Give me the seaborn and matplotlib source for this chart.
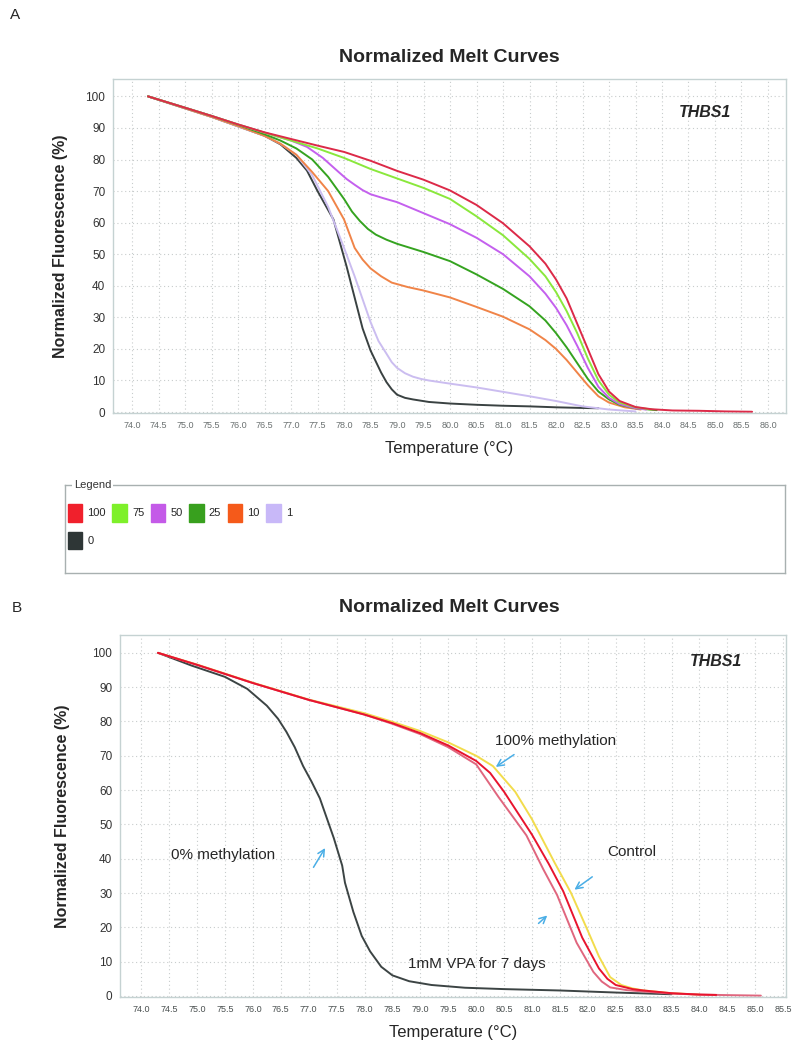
import numpy as np
import pandas as pd
import seaborn as sns
import matplotlib.pyplot as plt
from matplotlib.patches import Patch

# ---- panel A data (standards, % methylation) ----
a_labels = ["100", "75", "50", "25", "10", "1", "0"]
a_colors = ["#dc2a48", "#8ae83c", "#c460ee", "#35a320", "#f08448", "#cbbdf0", "#3a4242"]
a_swatch = ["#f0202c", "#7ef02a", "#c45ae8", "#38a01e", "#f55a1a", "#c8b8f8", "#2e3636"]

a_t_100 = [74.3, 75.0, 75.5, 76.0, 76.5, 77.0, 77.5, 78.0, 78.5, 79.0, 79.5, 80.0, 80.5, 81.0, 81.5,
           81.8, 82.0, 82.2, 82.4, 82.6, 82.8, 83.0, 83.2, 83.5, 83.8, 84.2, 84.7, 85.2, 85.7]
a_f_100 = [100, 96.4, 93.8, 91.1, 88.6, 86.5, 84.4, 82.4, 79.6, 76.4, 73.6, 70.2, 65.6, 59.8, 52.5,
           47, 42, 36, 28, 20, 12, 6.5, 3.5, 1.6, 0.9, 0.5, 0.4, 0.2, 0.1]
a_t_75 = [74.3, 75.0, 75.5, 76.0, 76.5, 77.0, 77.5, 78.0, 78.5, 79.0, 79.5, 80.0, 80.5, 81.0, 81.5,
          81.8, 82.0, 82.2, 82.4, 82.6, 82.8, 83.0, 83.2, 83.5, 83.8]
a_f_75 = [100, 96.4, 93.8, 91.1, 88.5, 86.0, 83.5, 80.5, 77.0, 74.0, 71.0, 67.5, 62, 56, 48.5,
          43, 38, 32, 25, 17, 10, 5.5, 3, 1.5, 0.8]
a_t_50 = [74.3, 75.0, 75.5, 76.0, 76.5, 77.0, 77.3, 77.6, 77.9, 78.05, 78.2, 78.35, 78.5, 78.75, 79.0,
          79.5, 80.0, 80.5, 81.0, 81.5, 81.8, 82.0, 82.2, 82.4, 82.6, 82.8, 83.0, 83.2, 83.5, 83.7]
a_f_50 = [100, 96.4, 93.8, 91.1, 88.5, 86.0, 84.0, 80.5, 76.0, 73.8, 72.0, 70.3, 69.0, 67.7, 66.5,
          63.0, 59.5, 55.2, 50, 43, 37.5, 33, 27.5, 21, 14, 8, 4.5, 2.5, 1.2, 0.8]
a_t_25 = [74.3, 75.0, 75.5, 76.0, 76.5, 76.8, 77.1, 77.4, 77.7, 78.0, 78.15, 78.3, 78.45, 78.6, 78.8,
          79.0, 79.5, 80.0, 80.5, 81.0, 81.5, 81.8, 82.0, 82.2, 82.4, 82.6, 82.8, 83.0, 83.2, 83.5,
          83.9]
a_f_25 = [100, 96.4, 93.8, 91.0, 88.0, 86.0, 83.5, 80.0, 74.5, 67.5, 63.5, 60.5, 58.0, 56.2, 54.6,
          53.3, 50.7, 47.8, 43.6, 39.0, 33.5, 29, 25, 20.5, 15.5, 10.5, 6.5, 4, 2.3, 1.2, 0.6]
a_t_10 = [74.3, 75.0, 75.5, 76.0, 76.5, 76.8, 77.1, 77.4, 77.7, 78.0, 78.2, 78.35, 78.5, 78.7, 78.9,
          79.2, 79.5, 80.0, 80.5, 81.0, 81.5, 81.8, 82.0, 82.2, 82.4, 82.6, 82.8, 83.0, 83.3, 83.6]
a_f_10 = [100, 96.2, 93.5, 90.6, 87.5, 85.0, 81.5, 76.0, 70.0, 61.0, 52.0, 48.3, 45.5, 43.0, 41.0,
          39.6, 38.5, 36.3, 33.3, 30.2, 26.2, 22.8, 20, 16.5, 12.5, 8.5, 5, 3, 1.5, 0.8]
a_t_1 = [74.3, 75.0, 75.5, 76.0, 76.5, 76.8, 77.1, 77.4, 77.7, 78.0, 78.2, 78.5, 78.65, 78.8, 78.9,
         79.0, 79.15, 79.3, 79.45, 79.6, 80.0, 80.5, 81.0, 81.5, 82.0, 82.5, 83.0, 83.5]
a_f_1 = [100, 96.2, 93.5, 90.5, 87.5, 85.0, 81.5, 75.0, 65.0, 52.0, 43.0, 28.5, 22.5, 18.5, 15.8,
         14.0, 12.3, 11.2, 10.5, 10.0, 9.0, 7.8, 6.4, 5.0, 3.5, 1.8, 0.8, 0.2]
a_t_0 = [74.3, 75.0, 75.5, 76.0, 76.5, 76.8, 77.1, 77.3, 77.5, 77.8, 78.05, 78.35, 78.5, 78.6, 78.7,
         78.8, 78.9, 79.0, 79.15, 79.3, 79.6, 80.0, 80.5, 81.0, 81.5, 82.0, 82.5, 82.8]
a_f_0 = [100, 96.2, 93.5, 90.5, 87.5, 84.8, 80.5, 76.5, 70.0, 61.0, 46.0, 26.5, 19.5, 16.0, 12.5,
         9.5, 7.2, 5.5, 4.5, 4.0, 3.2, 2.7, 2.3, 2.0, 1.8, 1.5, 1.3, 1.2]

# ---- panel B data (cells) ----
b_labels = ["0%", "control", "100%", "VPA"]
b_colors = ["#3c4444", "#f2dc4c", "#e8142e", "#e0667e"]
b_t_0 = [74.3, 74.9, 75.5, 75.9, 76.25, 76.45, 76.6, 76.75, 76.9, 77.05, 77.2, 77.45, 77.6, 77.65,
         77.8, 77.95, 78.1, 78.3, 78.5, 78.8, 79.2, 79.8, 80.5, 81.5, 82.5, 83.5]
b_f_0 = [100, 96.3, 93.0, 89.5, 84.6, 80.8, 77.0, 72.5, 67.0, 62.5, 57.6, 46.0, 38.0, 33.0,
         24.5, 17.5, 13.0, 8.5, 6.0, 4.3, 3.2, 2.4, 2.0, 1.6, 1.0, 0.5]
b_t_ctrl = [74.3, 75.0, 76.0, 77.0, 78.0, 78.5, 79.0, 79.5, 80.0, 80.3, 80.7, 81.0, 81.4, 81.7, 82.0,
            82.2, 82.4, 82.6, 82.8, 83.0, 83.5, 84.0]
b_f_ctrl = [100, 96.6, 91.3, 86.4, 82.4, 79.9, 77.2, 73.9, 70.0, 67.0, 59.5, 51.5, 39.0, 30.0, 19.0,
            11.5, 5.5, 3.2, 2.2, 1.6, 0.8, 0.4]
b_t_100 = [74.3, 75.0, 76.0, 77.0, 78.0, 78.5, 79.0, 79.5, 80.0, 80.25, 80.5, 81.0, 81.3, 81.56, 81.9,
           82.2, 82.35, 82.5, 82.8, 83.0, 83.5, 84.0, 84.3]
b_f_100 = [100, 96.5, 91.2, 86.3, 82.0, 79.5, 76.6, 73.0, 68.5, 65.0, 59.5, 47.0, 38.5, 30.5, 17.0,
           8.0, 5.0, 3.2, 2.0, 1.6, 0.8, 0.4, 0.3]
b_t_vpa = [74.3, 75.0, 76.0, 77.0, 78.0, 78.5, 79.0, 79.5, 80.0, 80.4, 80.9, 81.2, 81.45, 81.8, 82.1,
           82.25, 82.4, 82.7, 83.0, 83.5, 84.0, 84.5, 85.1]
b_f_vpa = [100, 96.5, 91.2, 86.3, 82.0, 79.3, 76.3, 72.5, 67.5, 58.0, 46.8, 37.0, 29.4, 15.5, 7.0,
           4.2, 2.5, 1.7, 1.3, 0.7, 0.4, 0.25, 0.1]

x_ticks_a = np.arange(74.0, 86.01, 0.5)
x_ticks_b = np.arange(74.0, 85.51, 0.5)
y_ticks = np.arange(0, 101, 10)


def long_df(temps, fluors, labels):
    parts = []
    for t, f, lab in zip(temps, fluors, labels):
        parts.append(pd.DataFrame({"Temperature": t, "Fluorescence": f, "Sample": lab}))
    return pd.concat(parts, ignore_index=True)


df_a = long_df([a_t_0, a_t_1, a_t_10, a_t_25, a_t_50, a_t_75, a_t_100],
               [a_f_0, a_f_1, a_f_10, a_f_25, a_f_50, a_f_75, a_f_100],
               ["0", "1", "10", "25", "50", "75", "100"])
df_b = long_df([b_t_0, b_t_ctrl, b_t_vpa, b_t_100],
               [b_f_0, b_f_ctrl, b_f_vpa, b_f_100],
               ["0%", "control", "VPA", "100%"])

sns.set_style("white")
plt.rcParams['font.family'] = ['Liberation Sans', 'DejaVu Sans']

fig = plt.figure(figsize=(7.94, 10.5), dpi=100)
ax_a = fig.add_axes([113 / 794, 1 - 413 / 1050, 673 / 794, 334 / 1050])
ax_b = fig.add_axes([120 / 794, 1 - 997 / 1050, 666 / 794, 362 / 1050])
ax_leg = fig.add_axes([65 / 794, 1 - 573 / 1050, 720 / 794, 88 / 1050])

pal_a = dict(zip(a_labels, a_colors))
sns.lineplot(data=df_a, x="Temperature", y="Fluorescence", hue="Sample",
             hue_order=["0", "1", "10", "25", "50", "75", "100"], palette=pal_a,
             estimator=None, sort=False, legend=False, linewidth=1.4, ax=ax_a)
pal_b = dict(zip(b_labels, b_colors))
sns.lineplot(data=df_b, x="Temperature", y="Fluorescence", hue="Sample",
             hue_order=["0%", "control", "VPA", "100%"], palette=pal_b,
             estimator=None, sort=False, legend=False, linewidth=1.4, ax=ax_b)

for ax, xt, xlim, ylim, tick_col in [(ax_a, x_ticks_a, (73.64, 86.34), (-0.3, 105.5), "#6a7070"),
                                     (ax_b, x_ticks_b, (73.62, 85.55), (-0.3, 105.2), "#4a5050")]:
    ax.set_xlim(*xlim)
    ax.set_ylim(*ylim)
    ax.set_xticks(xt)
    ax.set_xticklabels([f"{v:.1f}" for v in xt], fontsize=6.5, color=tick_col)
    ax.set_yticks(y_ticks)
    ax.set_yticklabels([str(v) for v in y_ticks], fontsize=8.5, color="#333333")
    ax.grid(True, linestyle=(0, (1, 2.5)), color="#c8cccc", linewidth=0.8)
    ax.tick_params(axis="both", length=2.5, color="#b8c4c4", pad=3)
    for sp in ax.spines.values():
        sp.set_color("#c5d2d2")
        sp.set_linewidth(1.0)
    ax.set_xlabel("Temperature (°C)", fontsize=12, labelpad=8)
    ax.set_ylabel("Normalized Fluorescence (%)", fontsize=11.5, fontweight="bold")

ax_a.yaxis.set_label_coords(-0.067, 0.5)
ax_b.yaxis.set_label_coords(-0.075, 0.5)

# titles and gene name
fig.text(0.566, 1 - 58 / 1050, "Normalized Melt Curves", fontsize=14, fontweight="bold",
         ha="center", va="center")
fig.text(0.566, 1 - 608 / 1050, "Normalized Melt Curves", fontsize=14, fontweight="bold",
         ha="center", va="center")
fig.text(10 / 794, 1 - 15 / 1050, "A", fontsize=11, ha="left", va="center")
fig.text(12 / 794, 1 - 608 / 1050, "B", fontsize=11, ha="left", va="center")
ax_a.text(84.81, 95, "THBS1", fontsize=11.5, fontstyle="italic", fontweight="bold",
          ha="center", va="center")
ax_b.text(84.29, 97.4, "THBS1", fontsize=11.5, fontstyle="italic", fontweight="bold",
          ha="center", va="center")

# annotations on panel B
arrow_kw = dict(arrowstyle="->", color="#4aaee6", lw=1.1, mutation_scale=12)
ax_b.annotate("", xy=(80.31, 66.3), xytext=(80.72, 70.8), arrowprops=arrow_kw)
ax_b.text(80.34, 74.4, "100% methylation", fontsize=11, ha="left", va="center")
ax_b.annotate("", xy=(77.32, 43.8), xytext=(77.06, 36.8), arrowprops=arrow_kw)
ax_b.text(75.47, 41, "0% methylation", fontsize=11, ha="center", va="center")
ax_b.annotate("", xy=(81.72, 30.5), xytext=(82.12, 35.2), arrowprops=arrow_kw)
ax_b.text(82.35, 41.9, "Control", fontsize=11, ha="left", va="center")
ax_b.annotate("", xy=(81.31, 24.0), xytext=(81.08, 20.6), arrowprops=arrow_kw)
ax_b.text(78.78, 9.3, "1mM VPA for 7 days", fontsize=11, ha="left", va="center")

# legend box for panel A
ax_leg.set_xticks([])
ax_leg.set_yticks([])
for sp in ax_leg.spines.values():
    sp.set_color("#a8b0b0")
    sp.set_linewidth(1.0)
ax_leg.text(0.012, 1.0, "Legend", fontsize=8, ha="left", va="center", color="#333333",
            bbox=dict(facecolor="white", edgecolor="none", pad=1.5), transform=ax_leg.transAxes)
order = ["100", "0", "75", "50", "25", "10", "1"]
sw = dict(zip(a_labels, a_swatch))
handles = [Patch(facecolor=sw[k], edgecolor=sw[k]) for k in order]
ax_leg.legend(handles, order, loc="upper left", bbox_to_anchor=(0.004, 0.78), ncol=6,
              frameon=False, fontsize=8, handlelength=1.3, handleheight=2.0,
              handletextpad=0.45, columnspacing=0.6, labelspacing=0.9, borderpad=0,
              borderaxespad=0)

fig.savefig("out.png", dpi=100)
